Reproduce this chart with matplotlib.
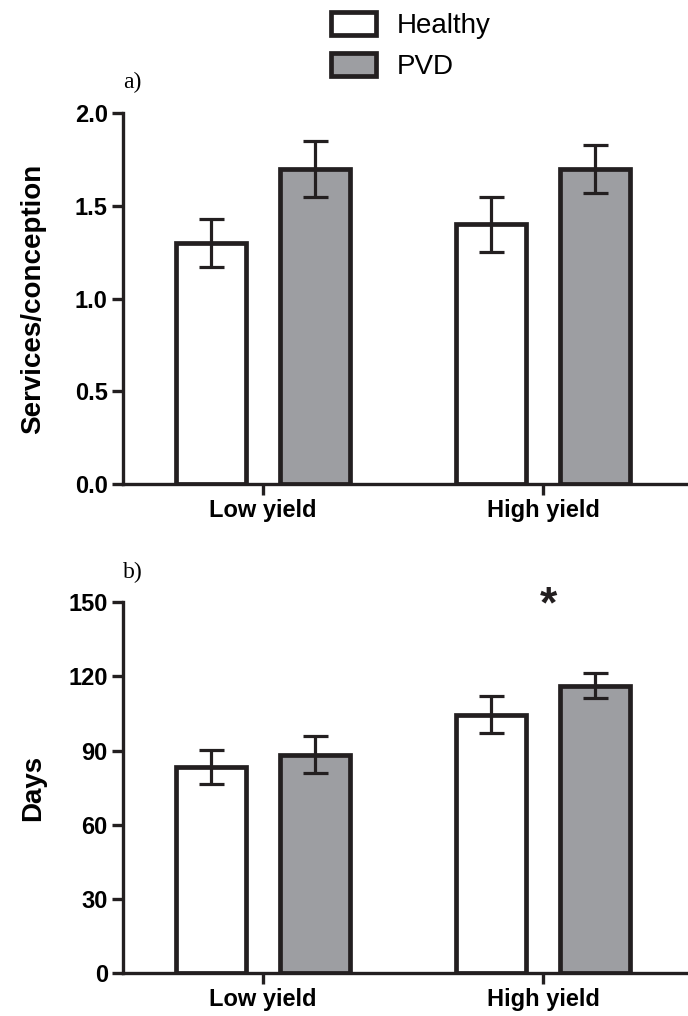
import numpy as np
import matplotlib as mpl
mpl.rcParams.update({'font.family': ['Liberation Sans', 'DejaVu Sans']})
import matplotlib.pyplot as plt

#%% Data

groups = ['Low yield', 'High yield']
series = ['Healthy', 'PVD']

# a) services per conception
spc_mean = {'Healthy': [1.30, 1.40], 'PVD': [1.70, 1.70]}
spc_err = {'Healthy': [0.13, 0.15], 'PVD': [0.15, 0.13]}

# b) days
days_mean = {'Healthy': [83.3, 104.4], 'PVD': [88.3, 116.2]}
days_err = {'Healthy': [7.0, 7.5], 'PVD': [7.4, 5.0]}

yticks_a = [0.0, 0.5, 1.0, 1.5, 2.0]
yticks_b = [0, 30, 60, 90, 120, 150]

#%% Plot
edge = '#231f20'
fills = {'Healthy': 'white', 'PVD': '#9d9ea2'}
offsets = {'Healthy': -0.186, 'PVD': 0.186}
width = 0.25

fig = plt.figure(figsize=(6.88, 10.16), dpi=100)
ax_a = fig.add_axes([0.179, 0.5236, 0.818, 0.365])
ax_b = fig.add_axes([0.179, 0.0423, 0.818, 0.365])

x = np.arange(len(groups))


def draw_panel(ax, means, errs, yticks, fmt, ylabel):
    handles = []
    for s in series:
        h = ax.bar(x + offsets[s], means[s], width, color=fills[s],
                   edgecolor=edge, linewidth=3.4, label=s, zorder=2)
        ax.errorbar(x + offsets[s], means[s], yerr=errs[s], fmt='none',
                    ecolor=edge, elinewidth=2.3, capsize=9, capthick=2.3,
                    zorder=3)
        handles.append(h)
    ax.set_xlim(-0.5, 1.51)
    ax.set_ylim(yticks[0], yticks[-1])
    ax.set_yticks(yticks)
    ax.set_yticklabels([fmt.format(v) for v in yticks])
    ax.set_xticks(x)
    ax.set_xticklabels(groups)
    for sp in ['top', 'right']:
        ax.spines[sp].set_visible(False)
    for sp in ['left', 'bottom']:
        ax.spines[sp].set_linewidth(2.4)
        ax.spines[sp].set_color(edge)
    ax.tick_params(axis='both', direction='out', length=8, width=2.4,
                   color=edge, labelsize=17, pad=3)
    for lab in ax.get_xticklabels() + ax.get_yticklabels():
        lab.set_fontweight('bold')
    ax.set_ylabel(ylabel, fontsize=20, fontweight='bold')
    ax.yaxis.set_label_coords(-0.137, 0.5)
    return handles


handles = draw_panel(ax_a, spc_mean, spc_err, yticks_a, '{:.1f}',
                     'Services/conception')
draw_panel(ax_b, days_mean, days_err, yticks_b, '{:d}', 'Days')

ax_b.text(1.02, 148.5, '*', ha='center', va='center', fontsize=32,
          fontweight='bold', color=edge, clip_on=False)

fig.text(0.179, 0.919, 'a)', family='Liberation Serif', fontsize=17,
         ha='left', va='center')
fig.text(0.179, 0.437, 'b)', family='Liberation Serif', fontsize=17,
         ha='left', va='center')

fig.legend(handles, series, loc='upper left', bbox_to_anchor=(0.481, 0.988),
           frameon=False, fontsize=20, handlelength=1.62, handleheight=0.9,
           handletextpad=0.75, labelspacing=0.5, borderpad=0,
           borderaxespad=0)

plt.savefig('out.png', dpi=100)
